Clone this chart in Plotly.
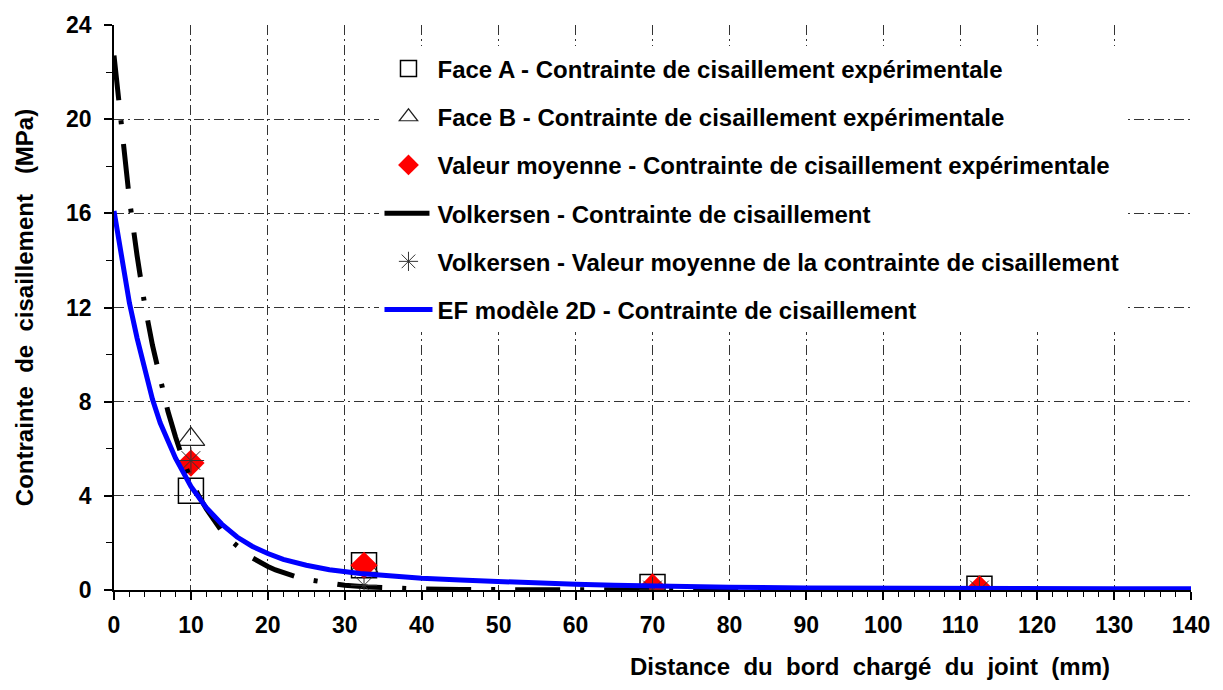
import plotly.graph_objects as go

# Measurement stations along the joint (mm)
stations = [10, 32.5, 70, 112.5]
face_a = [4.22, 1.05, 0.13, 0.05]
face_b = [6.4, 1.0, 0.15, 0.05]
moyenne = [5.39, 1.05, 0.13, 0.05]
volk_moy = [5.5, 0.2, 0.0, 0.0]

# Volkersen analytical shear stress profile
volk_x = [0, 1, 2, 3, 4, 5, 6, 7, 8, 9, 10, 11, 12, 13, 14, 15, 16, 17, 18, 19,
          20, 21, 22, 23, 24, 25, 26, 28, 30, 33, 36, 40, 45, 50, 60, 70, 80,
          90, 100, 110, 120, 130, 140]
volk_y = [22.7, 19.4, 16.6, 14.2, 12.1, 10.4, 8.9, 7.6, 6.5, 5.5, 4.7, 4.0,
          3.45, 2.95, 2.5, 2.15, 1.85, 1.6, 1.36, 1.16, 1.0, 0.85, 0.73, 0.62,
          0.53, 0.45, 0.39, 0.28, 0.2, 0.13, 0.08, 0.04, 0.02, 0.01, 0.0, 0.0,
          0.0, 0.0, 0.0, 0.0, 0.0, 0.0, 0.0]

# 2D finite element model shear stress profile
ef_x = [0, 1, 2, 3, 4, 5, 6, 7, 8, 9, 10, 12, 14, 16, 18, 20, 22, 25, 28, 32,
        36, 40, 45, 50, 55, 60, 65, 70, 80, 90, 100, 110, 120, 130, 140]
ef_y = [16.1, 14.0, 12.2, 10.7, 9.3, 8.1, 7.1, 6.3, 5.6, 5.0, 4.4, 3.5, 2.8,
        2.25, 1.85, 1.55, 1.3, 1.05, 0.86, 0.7, 0.58, 0.5, 0.42, 0.35, 0.29,
        0.24, 0.2, 0.16, 0.12, 0.09, 0.07, 0.06, 0.05, 0.05, 0.05]

x_ticks = list(range(0, 141, 10))
y_ticks = list(range(0, 25, 4))

FONT = "Liberation Sans"
GRID = "#333333"
TEXT_FONT = dict(family=FONT, size=24, color="black", weight="bold")
TICK_FONT = dict(family=FONT, size=23, color="black", weight="bold")

fig = go.Figure()

fig.add_trace(go.Scatter(
    x=stations, y=face_a, mode="markers",
    name="Face A - Contrainte de cisaillement expérimentale",
    legendgroup="a",
    marker=dict(symbol="square-open", size=25, color="black", line=dict(width=1.5)),
))
fig.add_trace(go.Scatter(
    x=stations, y=face_b, mode="markers",
    name="Face B - Contrainte de cisaillement expérimentale",
    legendgroup="b",
    marker=dict(symbol="triangle-up-open", size=24, color="#222222", line=dict(width=1.2)),
))
fig.add_trace(go.Scatter(
    x=stations, y=moyenne, mode="markers",
    name="Valeur moyenne - Contrainte de cisaillement expérimentale",
    legendgroup="c",
    marker=dict(symbol="diamond", size=21, color="#ff0000", line=dict(width=0)),
))
fig.add_trace(go.Scatter(
    x=volk_x, y=volk_y, mode="lines",
    name="Volkersen - Contrainte de cisaillement",
    legendgroup="d",
    line=dict(color="black", width=5, dash="45px,20px,4px,20px"),
))
fig.add_trace(go.Scatter(
    x=stations, y=volk_moy, mode="markers",
    name="Volkersen - Valeur moyenne de la contrainte de cisaillement",
    legendgroup="e",
    marker=dict(symbol="asterisk-open", size=22, color="#333333", line=dict(width=1, color="#333333")),
))
fig.add_trace(go.Scatter(
    x=ef_x, y=ef_y, mode="lines",
    name="EF modèle 2D - Contrainte de cisaillement",
    legendgroup="f",
    line=dict(color="#0000ff", width=5),
))

fig.update_layout(
    width=1223, height=690,
    margin=dict(l=114, r=32, t=19, b=100),
    paper_bgcolor="white", plot_bgcolor="white",
    font=TEXT_FONT,
    showlegend=True,
    legend=dict(
        x=0.2465, y=0.962, xanchor="left", yanchor="top",
        bgcolor="white", borderwidth=0,
        traceorder="grouped", tracegroupgap=14,
        itemwidth=48,
        font=TEXT_FONT,
    ),
    annotations=[dict(
        text="Distance  du  bord  chargé  du  joint  (mm)",
        xref="paper", yref="paper", x=0.702, y=-0.135,
        xanchor="center", yanchor="middle", showarrow=False,
        font=TEXT_FONT,
    )],
)

fig.update_xaxes(
    range=[0, 140], tickvals=x_ticks, ticktext=[str(v) for v in x_ticks],
    showline=True, linecolor="black", linewidth=1.5,
    ticks="outside", ticklen=8, tickwidth=1.5, tickcolor="black",
    ticklabelstandoff=6,
    minor=dict(dtick=2, ticks="outside", ticklen=5, tickwidth=1.2, tickcolor="black", showgrid=False),
    showgrid=True, gridcolor=GRID, gridwidth=1.3, griddash="10px,4px,2px,4px",
    zeroline=False,
    tickfont=TICK_FONT,
)
fig.update_yaxes(
    range=[0, 24], tickvals=y_ticks, ticktext=[str(v) for v in y_ticks],
    showline=True, linecolor="black", linewidth=1.5,
    ticks="outside", ticklen=8, tickwidth=1.5, tickcolor="black",
    ticklabelstandoff=8,
    minor=dict(dtick=2, ticks="outside", ticklen=6, tickwidth=1.2, tickcolor="black", showgrid=False),
    showgrid=True, gridcolor=GRID, gridwidth=1.3, griddash="10px,4px,2px,4px",
    zeroline=False,
    title=dict(text="Contrainte  de  cisaillement   (MPa)", standoff=26, font=TEXT_FONT),
    tickfont=TICK_FONT,
)

fig.write_html("out.html")
